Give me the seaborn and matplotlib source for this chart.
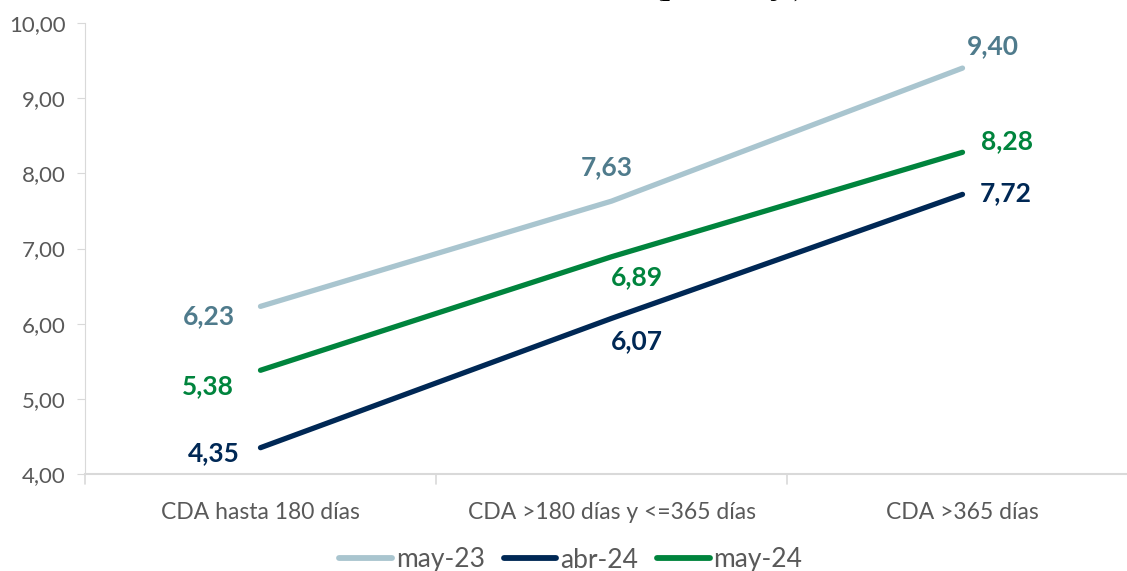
import matplotlib
matplotlib.use("Agg")
import matplotlib.pyplot as plt
import seaborn as sns
import pandas as pd
from matplotlib.lines import Line2D

categorias = ["CDA hasta 180 días", "CDA >180 días y <=365 días", "CDA >365 días"]
series = ["may-23", "abr-24", "may-24"]
may_23 = [6.23, 7.63, 9.40]
abr_24 = [4.35, 6.07, 7.72]
may_24 = [5.38, 6.89, 8.28]
y_ticks = [4.0, 5.0, 6.0, 7.0, 8.0, 9.0, 10.0]

line_colors = {"may-23": "#A9C5CF", "abr-24": "#002855", "may-24": "#00843D"}
label_colors = {"may-23": "#4F7B8C", "abr-24": "#002855", "may-24": "#00843D"}

df = pd.DataFrame({
    "categoria": categorias * 3,
    "pos": list(range(3)) * 3,
    "serie": ["may-23"] * 3 + ["abr-24"] * 3 + ["may-24"] * 3,
    "valor": may_23 + abr_24 + may_24,
})

sns.set_theme(style="white")
plt.rcParams["font.family"] = ["Lato", "DejaVu Sans"]

fig = plt.figure(figsize=(11.27, 5.71), dpi=100)
ax = fig.add_axes([85 / 1127, 1 - 474 / 571, (1138 - 85) / 1127, (474 - 23) / 571])

sns.lineplot(data=df, x="pos", y="valor", hue="serie", hue_order=series,
             palette=line_colors, linewidth=3.8, sort=False, legend=False, ax=ax)
for ln in ax.lines:
    ln.set_solid_capstyle("round")

ax.set_xlim(-0.5, 2.5)
ax.set_ylim(4.0, 10.0)
ax.set_yticks(y_ticks)
ax.set_yticklabels([f"{v:.2f}".replace(".", ",") for v in y_ticks],
                   color="#595959", fontsize=16)
ax.set_xticks(range(3))
ax.set_xticklabels(categorias, color="#595959", fontsize=16.5)
ax.set_xlabel("")
ax.set_ylabel("")

# axis styling
for s in ["top", "right"]:
    ax.spines[s].set_visible(False)
ax.spines["left"].set_color("#D9D9D9")
ax.spines["left"].set_linestyle((0, (3, 1)))
ax.spines["left"].set_linewidth(0.8)
ax.spines["bottom"].set_color("#D9D9D9")
ax.spines["bottom"].set_linewidth(1.5)
ax.tick_params(axis="y", length=6, width=0.8, color="#D9D9D9", pad=8, left=True)
ax.tick_params(axis="x", length=0, pad=20)
for xb in [-0.5, 0.5, 1.5]:
    ax.plot([xb, xb], [4.0, 3.87], color="#D9D9D9", lw=1.2, clip_on=False)

# data labels
offsets = {
    "may-23": [(-52, -10), (-5, 34), (30, 22)],
    "abr-24": [(-47, -5), (25, -23), (43, 1)],
    "may-24": [(-53, -16), (25, -20), (45, 11)],
}
values = {"may-23": may_23, "abr-24": abr_24, "may-24": may_24}
for s in series:
    for i, v in enumerate(values[s]):
        dx, dy = offsets[s][i]
        ax.annotate(f"{v:.2f}".replace(".", ","), xy=(i, v), xytext=(dx, dy),
                    textcoords="offset pixels", ha="center", va="center",
                    fontsize=19, fontweight="bold", color=label_colors[s])

# legend
handles = [Line2D([0], [0], color=line_colors[s], lw=4.2, solid_capstyle="round")
           for s in series]
fig.legend(handles, series, loc="center", bbox_to_anchor=(571 / 1127, 1 - 560 / 571),
           ncol=3, frameon=False, fontsize=19, handlelength=2.0, handletextpad=0.15,
           columnspacing=0.7, labelcolor="#595959")

# subtitle
fig.text(728 / 1127, 1 + 5 / 571, "(porcentaje)", ha="center", va="baseline",
         fontsize=21, fontweight="bold", family=["Liberation Serif", "DejaVu Serif"],
         color="#000000")

fig.savefig("out.png", dpi=100)
